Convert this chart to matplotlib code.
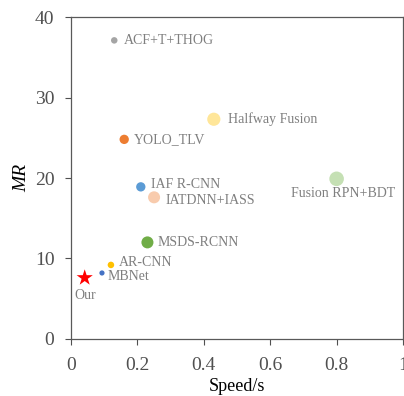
import matplotlib
matplotlib.use("Agg")
import matplotlib.pyplot as plt

names = ["ACF+T+THOG", "Halfway Fusion", "YOLO_TLV", "IAF R-CNN", "IATDNN+IASS",
         "Fusion RPN+BDT", "MSDS-RCNN", "AR-CNN", "MBNet"]
speed = [0.13, 0.43, 0.16, 0.21, 0.25, 0.80, 0.23, 0.12, 0.093]
mr = [37.1, 27.3, 24.8, 18.9, 17.6, 19.9, 12.0, 9.2, 8.2]
colors = ["#A5A5A5", "#FFE699", "#ED7D31", "#5B9BD5", "#F8CBAD",
          "#C5E0B4", "#70AD47", "#FFC000", "#4472C4"]
sizes = [22, 90, 45, 45, 75, 110, 75, 22, 14]
our_speed, our_mr = 0.041, 7.6

plt.rcParams['font.family'] = ['Liberation Serif', 'DejaVu Serif']

fig = plt.figure(figsize=(4.04, 3.96), dpi=100)
ax = fig.add_axes([0.176, 0.144, 0.8215, 0.813])

ax.scatter(speed, mr, s=sizes, c=colors, edgecolors='none', zorder=3)
ax.scatter([our_speed], [our_mr], s=150, marker='*', c='#FF0000', edgecolors='none', zorder=3)

lab_col = '#7F7F7F'
fs = 10
for n, x, y in zip(names, speed, mr):
    if n == "Fusion RPN+BDT":
        ax.text(x + 0.02, y - 1.0, n, ha='center', va='top', fontsize=fs, color=lab_col)
    elif n == "IATDNN+IASS":
        ax.text(x + 0.035, y - 0.4, n, ha='left', va='center', fontsize=fs, color=lab_col)
    elif n == "IAF R-CNN":
        ax.text(x + 0.03, y + 0.3, n, ha='left', va='center', fontsize=fs, color=lab_col)
    elif n == "MBNet":
        ax.text(x + 0.018, y - 0.4, n, ha='left', va='center', fontsize=fs, color=lab_col)
    elif n == "AR-CNN":
        ax.text(x + 0.025, y + 0.3, n, ha='left', va='center', fontsize=fs, color=lab_col)
    elif n == "Halfway Fusion":
        ax.text(x + 0.042, y, n, ha='left', va='center', fontsize=fs, color=lab_col)
    else:
        ax.text(x + 0.03, y, n, ha='left', va='center', fontsize=fs, color=lab_col)
ax.text(our_speed, our_mr - 1.4, "Our", ha='center', va='top', fontsize=fs, color=lab_col)

ax.set_xlim(0, 1)
ax.set_ylim(0, 40)
ax.set_xticks([0, 0.2, 0.4, 0.6, 0.8, 1])
ax.set_xticklabels(["0", "0.2", "0.4", "0.6", "0.8", "1"])
ax.set_yticks([0, 10, 20, 30, 40])
ax.tick_params(labelsize=14, colors='#505050', length=4, direction='out')
ax.tick_params(axis='x', pad=9)
ax.tick_params(axis='y', pad=8)
for s in ax.spines.values():
    s.set_color('#595959')
    s.set_linewidth(0.9)
ax.set_xlabel("Speed/s", fontsize=13, color='#000000', labelpad=3)
ax.set_ylabel("MR", fontsize=14, style='italic', color='#000000', labelpad=3)

fig.savefig("out.png", dpi=100)
